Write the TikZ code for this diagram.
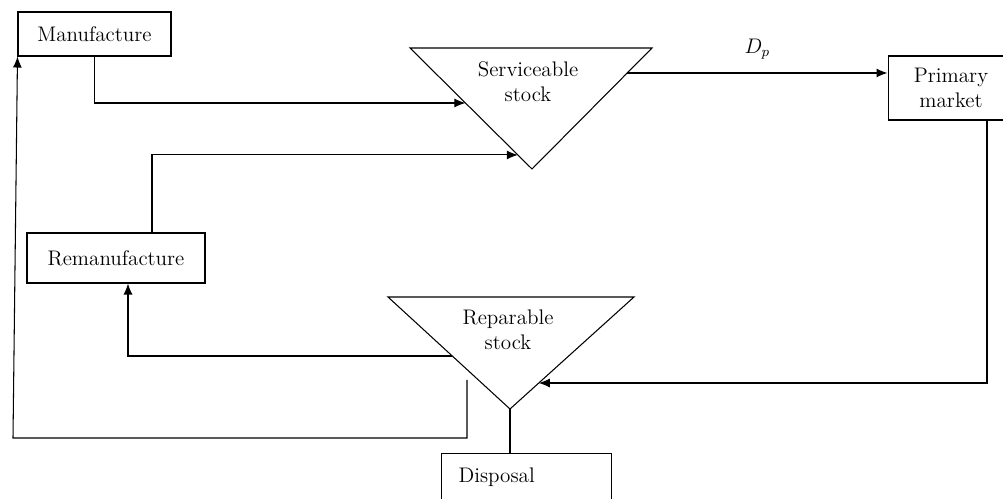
\documentclass[tikz,border=0pt]{standalone}
\usetikzlibrary{calc,arrows.meta}
\begin{document}
\begin{tikzpicture}[x=0.02cm, y=-0.02cm, line width=0.6pt,
    box/.style={draw, inner sep=0pt, align=center, font=\fontsize{12}{14.2}\selectfont},
    txt/.style={align=center, inner sep=0pt, font=\fontsize{12}{14.2}\selectfont},
    arr/.style={-{Latex[length=2.2mm,width=1.8mm]}}]
    \useasboundingbox (0,0) rectangle (1003,499);
    % boxes
    \node[box, minimum width=3.06cm, minimum height=0.88cm] (man) at (94.5,34) {Manufacture};
    \node[box, minimum width=3.56cm, minimum height=1cm] (reman) at (116,258) {Remanufacture};
    \node[box, minimum width=2.52cm, minimum height=1.28cm] (prim) at (951,88) {Primary\\market};
    \node[box, anchor=north west, align=left, text width=2.72cm, inner xsep=0.34cm,
          inner ysep=0.29cm, text depth=0.5cm] (disp) at (441,453) {Disposal};
    % serviceable stock
    \coordinate (sl) at (410,48);
    \coordinate (sr) at (652,48);
    \coordinate (sb) at (532,169);
    \draw (sl) -- (sr) -- (sb) -- cycle;
    \node[txt] (serv) at (528,82) {Serviceable\\stock};
    % reparable stock
    \coordinate (rl) at (388,297);
    \coordinate (rr) at (634,297);
    \coordinate (rb) at (510,409);
    \draw (rl) -- (rr) -- (rb) -- cycle;
    \node[txt] (rep) at (508,330) {Reparable\\stock};
    % points on the triangle sides
    \coordinate (sv-in1) at ($(sl)!0.4545!(sb)$);
    \coordinate (sv-in2) at ($(sl)!0.884!(sb)$);
    \coordinate (sv-out) at ($(sr)!0.2066!(sb)$);
    \coordinate (rp-in) at ($(rr)!0.768!(rb)$);
    \coordinate (rp-out) at ($(rl)!0.527!(rb)$);
    \coordinate (rp-dn) at (467,380);
    \coordinate (lc) at (13,438);
    % flows
    \draw[arr] (man.south) |- (sv-in1);
    \draw[arr] ($(reman.north)+(36,0)$) |- (sv-in2);
    \draw[arr] (sv-out) -- node[above=4pt, font=\large] (dp) {$D_p$} (sv-out -| prim.west);
    \draw[arr] ($(prim.south)+(36,0)$) |- (rp-in);
    \draw[arr] (rp-out) -| ($(reman.south)+(12,0)$);
    \draw[arr] (rp-dn) |- (lc) -- (man.south west);
    \draw (rb) -- (rb |- disp.north);
\end{tikzpicture}
\end{document}
